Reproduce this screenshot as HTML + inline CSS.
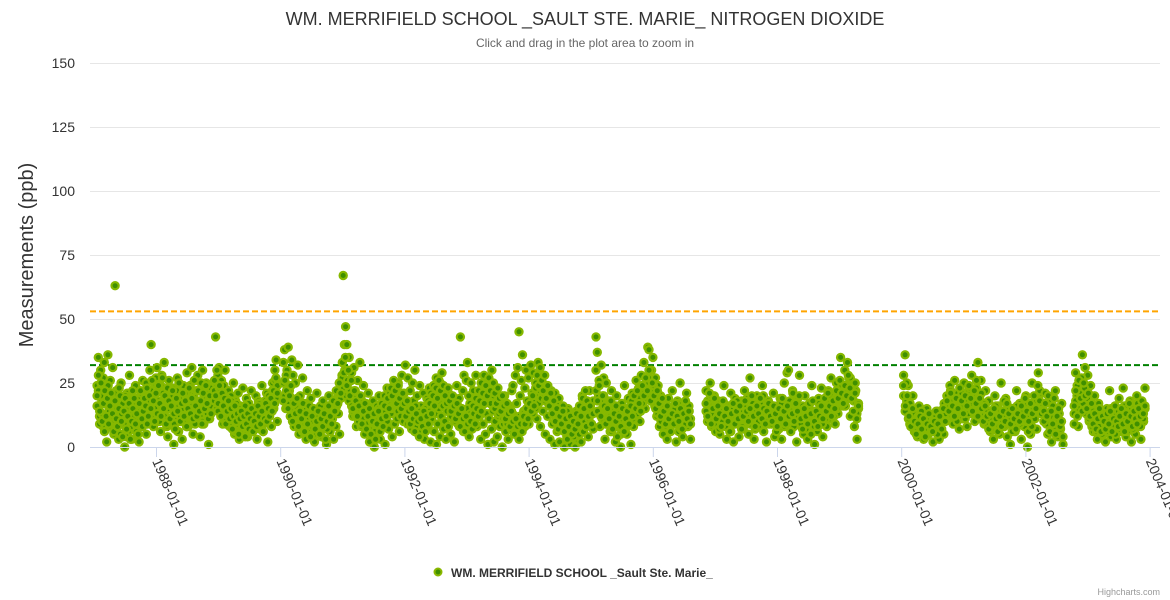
<!DOCTYPE html>
<html>
<head>
<meta charset="utf-8">
<style>
  html,body{margin:0;padding:0;background:#fff;}
  svg{display:block;font-family:"Liberation Sans","DejaVu Sans",sans-serif;}
</style>
</head>
<body>
<svg id="chart" width="1170" height="600" viewBox="0 0 1170 600">
  <text x="585" y="25" text-anchor="middle" font-size="18" fill="#333">WM. MERRIFIELD SCHOOL _SAULT STE. MARIE_ NITROGEN DIOXIDE</text>
  <text x="585" y="47" text-anchor="middle" font-size="12" fill="#666">Click and drag in the plot area to zoom in</text>
  <text transform="translate(33,255) rotate(-90)" text-anchor="middle" font-size="20" fill="#333">Measurements (ppb)</text>
  <g id="grid"></g>
  <g id="yticks"></g>
  <g id="refs"></g>
  <g id="points"></g>
  <line x1="90" y1="447.5" x2="1160" y2="447.5" stroke="#ccd6eb" stroke-width="1"></line>
  <g id="xticks"></g>
  <g>
    <circle cx="438" cy="572" r="3.5" fill="#3f8f00" stroke="#8ab800" stroke-width="2"></circle>
    <text x="451" y="577" font-size="12" font-weight="bold" fill="#333">WM. MERRIFIELD SCHOOL _Sault Ste. Marie_</text>
  </g>
  <text x="1160" y="595" text-anchor="end" font-size="9" fill="#999">Highcharts.com</text>
</svg>
<script>
const yTicks = [0,25,50,75,100,125,150];
const xTickYears = [1988,1990,1992,1994,1996,1998,2000,2002,2004];
const refLevels = [53,32];
const refColors = ["#ffa500","#008000"];
const segStarts = ["1987-01-20","1988-12-10","1990-01-20","1995-02-01","1996-11-10","2000-01-15","2002-04-20","2002-10-15"];
const segEnds   = ["1988-11-20","1989-12-15","1995-01-15","1996-08-10","1999-04-25","2002-04-05","2002-08-10","2003-12-05"];
const segA = [24,35,12,30,18,8,33,20,2,36,15,26,10,31,5,63,22,14,3,19,25,9,17,0,12,21,6,28,14,3,18,11,24,7,16,2,20,13,26,9,17,5,22,11,30,40,19,8,25,14,31,10,22,6,28,17,33,12,20,4,26,15,9,23,1,18,12,27,6,20,14,3,24,10,17,29,8,21,13,31,5,19,26,11,28,16,4,22,30,9,18,25,13,1,20,23];
const segA2 = [16,22,9,20,13,27,6,18,11,24,14,8,19,12,21,7,15,10,23,5,13,17,9,20,4,15,11,18,8,22,12,16,6,19,10,14,21,8,17,12,25,9,18,14,22,11,20,15,27,13,18,10,24,16,21,12,19,8,15,23,11,17,20,9,14,22,6,16,12,19,10,15,21,8,13,18,24,11,16,20,9,22,14,17,12,25,10,19,15,21,13,18,11,16];
const segA3 = [20,28,14,25,10,17,22,12,19,9,16,21,13,6,18,11,8,15,20,10,4,14,19,7,12,17,3,10,15,19,9,13,5,17,22,11,14,19,16,23,12,20,15,26,18,10,21,13,24,17,12,27,15,20,9,23,18,11,16,22,13,7,19,14,25,10,17,21,12,18,8,15,23,13,19,11,26,16,12,22,14,18,9,21,15,24,17,11,20,13];
const segB = [22,43,15,28,31,19,26,9,24,30,17,12,22,8,20,14,25,5,18,11,21,3,16,9,23,6,13,19,4,17,10,22,7,15,12,20,3,18,9,14,24,6,16,11,21,2,13,19,8,25,15,30,34,10];
const segB2 = [18,25,20,14,23,17,12,21,15,10,19,13,16,8,18,11,14,6,17,9,12,15,7,13,10,16,5,12,9,14,11,6,15,8,13,10,17,7,12,15,9,18,11,14,20,13,17,22,15,26,19,24];
const segB3 = [26,20,30,17,24,12,21,16,19,9,14,18,11,15,7,12,16,10,13,5,11,14,8,12,4,9,13,7,11,15,6,10,13,8,16,12,9,14,6,11,17,10,15,12,19,14,22,17,27,21];
const segC = [33,38,15,30,39,22,12,34,28,8,25,18,32,5,20,14,27,10,17,3,22,12,6,19,9,15,2,13,21,7,11,16,4,18,9,14,1,12,20,6,10,17,3,15,8,19,13,5,22,28,67,40,
  47,40,25,35,18,29,12,31,22,8,26,15,33,19,10,24,5,17,13,21,2,14,9,18,0,11,16,6,20,3,12,8,15,1,19,10,7,22,13,4,17,9,23,11,25,6,14,28,18,21,32,12,
  27,15,22,9,25,18,30,12,20,5,24,16,10,21,3,14,19,8,23,2,11,17,6,13,1,9,15,4,12,18,7,10,3,14,8,20,5,16,11,2,13,24,9,19,43,15,22,28,12,26,33,20,
  17,25,10,22,14,28,8,19,12,3,16,9,21,5,13,1,11,17,7,14,2,10,18,4,12,8,15,0,9,20,6,13,3,16,11,22,24,8,28,17,31,45,20,26,36,14,23,30,18,27,12,32,
  21,29,15,25,11,33,19,8,24,14,28,5,20,12,17,3,22,9,14,1,18,6,11,2,16,8,13,0,10,4,15,7,1,12,5,9,0,14,3,8,11,2,20,6,15,10,18,4,22,9,13,7];
const segC2 = [25,20,28,17,22,12,19,15,10,16,13,8,14,11,6,12,9,15,7,11,13,8,10,5,12,9,14,6,11,8,13,10,7,12,9,15,11,14,18,16,21,25,19,27,23,30,20,26,18,22,16,14,19,12,17,10,15,8,13,11,16,9,12,7,14,10,13,6,11,9,15,12,17,14,20,16,23,18,21,15,19,24,17,22,14,20,12,18,10,16,13,9,15,11,7,13,10,16,8,12,14,6,11,9,15,12,18,14,21,17,24,19,27,22,18,25,20,16,23,19,14,21,17,12,18,15,10,16,13,8,14,11,6,12,9,15,7,13,10,16,12,19,15,22,18,25,20,28,23,19,26,22,17,24,20,15,21,18,13,19,16,11,17,14,9,15,12,7,13,10,5,11,8,12,6,10,13,8,11,14,9,12,16,13,18,15,20,17,22,19,25,21,18,23,20,16,22,19,14,21,17,12,19,15,10,16,13,8,14,11,6,12,9,4,10,7,11,5,9,12,6,10,8,13,11,16,14,18];
const segC3 = [18,26,22,15,20,24,10,17,13,19,8,14,11,17,6,13,9,16,4,12,15,7,10,14,5,11,8,13,3,10,16,12,9,18,14,22,17,25,21,33,29,35,24,30,20,26,15,22,18,12,16,20,9,14,17,7,12,15,5,10,13,3,9,14,6,11,8,16,12,19,15,23,20,26,22,17,24,19,15,21,17,12,18,14,9,15,11,6,13,10,4,11,8,14,6,12,9,17,13,20,16,23,19,26,22,29,24,20,17,23,18,14,20,16,11,17,13,8,15,11,6,12,9,4,10,7,13,9,15,12,18,14,21,17,24,20,27,22,30,25,21,17,23,19,14,20,16,11,17,13,8,14,10,5,11,8,3,9,6,12,9,15,11,17,14,20,16,23,28,24,31,26,22,28,19,24,16,21,13,18,10,15,7,12,9,14,6,11,3,8,12,5,10,7,13,9,16,12,19,15,22,18,12,16,9,13];
const segD = [43,37,20,8,32,15,27,3,25,12,18,6,22,10,16,2,20,9,13,0,17,7,24,11,5,19,14,1,21,8,12,26,16,23,10,28,19,33,15,26,39,38,22,30,35,18,27,12,24,8,20,14,5,17,11,3,19,7,13,22,9,15,2,18,6,25,12,4,16,10,21,8,14,3];
const segD2 = [22,14,26,18,11,20,15,9,17,12,6,14,10,16,8,13,5,11,15,7,12,9,14,18,11,16,20,13,19,23,17,21,25,19,27,22,18,24,16,21,13,19,10,16,12,8,14,10,6,12,9,15,11,17,13,7,10,14,9,12,16,11];
const segD3 = [30,18,24,12,20,16,9,15,11,18,7,13,10,4,12,8,15,6,11,14,9,16,12,20,15,22,17,14,24,20,27,22,30,18,25,20,15,22,17,12,19,14,9,16,11,6,13,9,17,12,10,15,7,13,18,11,14,9];
const segE = [22,10,17,25,8,14,20,6,12,18,5,15,9,24,11,3,16,7,21,13,2,19,10,15,4,12,18,7,22,9,14,5,27,11,17,3,13,20,8,16,10,24,6,13,2,18,9,15,12,21,4,11,16,7,19,3,14,25,10,29,30,17,12,22,8,18,2,13,28,9,15,5,20,11,3,16,8,24,12,1,14,6,19,10,23,4,13,17,8,22,11,27,15,20,9,25,13,18,35,24,16,30,21,33,27,12,19,25,8,22,3,15];
const segE2 = [14,18,11,20,13,9,16,12,7,14,10,17,8,13,11,6,15,9,12,18,10,14,8,16,11,19,13,9,15,12,7,14,10,17,12,20,15,11,18,13,9,16,12,6,14,10,17,13,8,15,11,18,14,21,17,12,19,14,9,16,11,7,13,10,5,12,8,14,10,17,13,9,15,11,18,14,20,16,12,19,15,22,18,24,20,16,23,19,27,22,18,25,13,17];
const segE3 = [17,12,21,9,15,19,11,16,13,8,18,12,15,10,6,13,17,9,14,11,16,7,12,18,14,10,15,20,12,8,16,13,19,11,15,9,14,17,12,10,16,13,8,15,11,19,14,9,16,12,6,13,10,17,14,20,11,7,15,12,9,17,13,18,10,14,8,12,16,11,19,14,21,16,12,18,15,22,19,26,21,17,24,20,28,23,19,14,21,11,16];
const segF = [28,36,18,24,9,14,20,6,11,4,16,8,13,3,10,15,5,7,12,2,9,6,14,3,8,11,5,16,20,12,24,18,9,26,14,21,7,17,11,25,19,8,22,13,28,16,10,23,33,20,26,15,9,22,12,18,6,14,3,20,10,16,5,25,12,8,19,4,13,1,15,9,6,22,11,17,3,14,8,20,0,10,5,25,12,18,7,29,15,21];
const segF2 = [20,14,25,11,17,8,13,10,6,12,8,14,9,5,11,7,13,6,10,8,12,5,9,14,11,17,13,20,16,22,12,18,15,10,19,14,21,16,11,18,13,23,17,20,14,26,19,15,21,12,17,9,14,11,7,13,9,16,12,8,14,10,18,12,15,9,11,6,13,8,16,11,9,14,12,17,10,6,12,8,15,11,18,14,22,17];
const segF3 = [24,16,20,12,8,15,10,5,9,12,7,11,4,9,13,8,6,10,14,9,12,7,15,10,18,14,21,16,12,19,15,23,18,13,20,16,24,19,14,22,17,12,19,15,10,16,12,7,13,9,15,11,6,12,8,14,10,17,13,9,15,11,7,13,10,16,12,19,14,10,17,13,20,15,24,18,13];
const segG = [14,21,9,5,18,12,2,16,8,22,11,4,13,7,17,1];
const segG2 = [10,17,12,20,6,14,9,19,5,12,15,8,10,4];
const segH = [13,29,20,8,25,15,36,22,31,18,28,10,24,16,6,20,12,3,17,9,14,5,11,2,15,8,22,4,13,7,16,3,10,19,6,12,23,9,4,14,7,18,2,11,15,5,20,8,13,3,17,10,23];
const segH2 = [9,18,24,15,21,27,17,23,13,19,11,16,8,14,10,6,12,8,14,5,11,9,13,6,10,15,8,12,5,11,14,7,13,9,16,11,6,12,9,15,7,13,10,17,12,8,14,11,15];
const segH3 = [16,22,12,26,19,14,25,20,15,21,12,17,9,13,7,11,15,6,12,10,7,13,9,14,6,11,16,10,8,12,15,9,6,13,10,17,12,8,14,11,9,15,12,18,13,16];
const segValues = [[segA,segA2,segA3],[segB,segB2,segB3],[segC,segC2,segC3],[segD,segD2,segD3],[segE,segE2,segE3],[segF,segF2,segF3],[segG,segG2],[segH,segH2,segH3]];

const NS = "http://www.w3.org/2000/svg";
const Y0 = 447, PX_PER_UNIT = 2.56;
const X1988 = 156, PX_PER_YEAR = 62.1;
function yScale(v){ return Y0 - v*PX_PER_UNIT; }
function toYear(d){ const t=new Date(d+"T00:00:00Z"); const y=t.getUTCFullYear(); const s=Date.UTC(y,0,1), e=Date.UTC(y+1,0,1); return y+(t-s)/(e-s); }
function xScale(yr){ return X1988 + (yr-1988)*PX_PER_YEAR; }
function mk(tag, attrs, parent){ const el=document.createElementNS(NS,tag); for(const k in attrs) el.setAttribute(k,attrs[k]); parent.appendChild(el); return el; }

const grid=document.getElementById('grid'), yt=document.getElementById('yticks');
yTicks.forEach(v=>{
  if(v>0){ const l=mk('line',{x1:90,x2:1160,y1:yScale(v)+0.5,y2:yScale(v)+0.5,stroke:'#e6e6e6','stroke-width':1},grid);
    
     }
  const t=mk('text',{x:75,y:yScale(v)+5,'text-anchor':'end','font-size':14,fill:'#333'},yt);
  t.textContent=v;
  
  
});
const xt=document.getElementById('xticks');
xTickYears.forEach(y=>{
  const x=xScale(y);
  const l=mk('line',{x1:x+0.5,x2:x+0.5,y1:447,y2:457,stroke:'#ccd6eb'},xt);
  
  
  const t=mk('text',{x:0,y:0,'font-size':14,fill:'#333',transform:`translate(${x-4},${461}) rotate(67)`},xt);
  t.textContent=y+'-01-01';
  
  
});
const refs=document.getElementById('refs');
refLevels.forEach((v,i)=>{
  const l=mk('line',{x1:90,x2:1160,y1:yScale(v),y2:yScale(v),stroke:refColors[i],'stroke-width':2,'stroke-dasharray':'6,3'},refs);
  
  
});
const pts=document.getElementById('points');
segValues.forEach((group,s)=>{
  const a=toYear(segStarts[s]), b=toYear(segEnds[s]);
  group.forEach(vals=>{
    vals.forEach((v,i)=>{
      const yr = vals.length>1 ? a+(b-a)*i/(vals.length-1) : a;
      const c=mk('circle',{cx:xScale(yr).toFixed(1),cy:yScale(v).toFixed(1),r:3.6,fill:'#3f8f00',stroke:'#86b800','stroke-width':2.2},pts);
      
      
    });
  });
});
</script>
</body>
</html>
